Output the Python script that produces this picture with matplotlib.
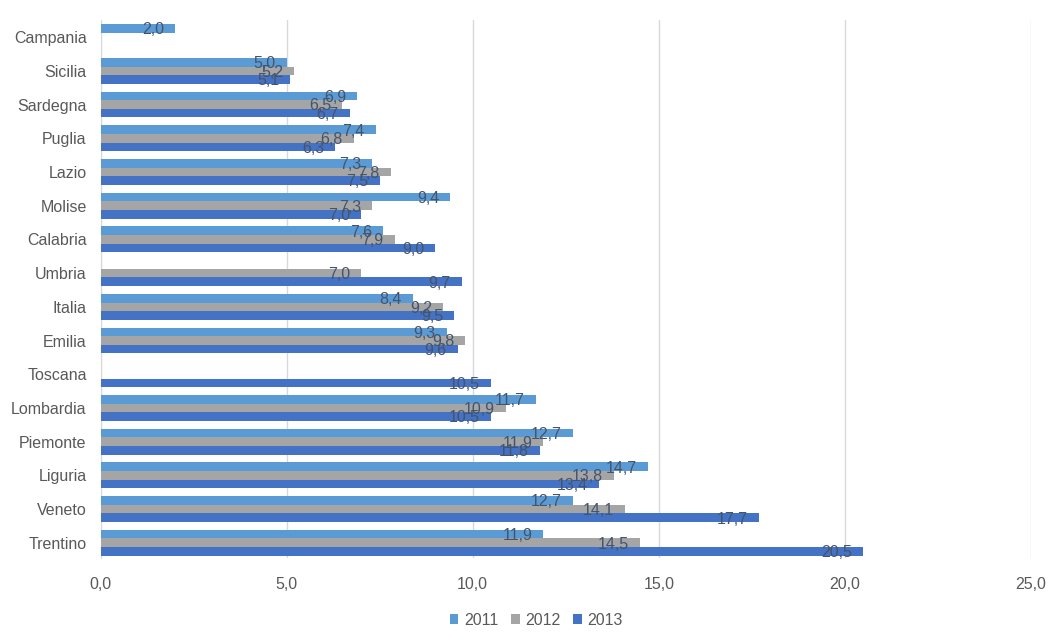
import numpy as np
import matplotlib
matplotlib.use("Agg")
import matplotlib.pyplot as plt
from matplotlib.patches import Patch

plt.rcParams["font.family"] = ["Liberation Sans Narrow", "Liberation Sans", "DejaVu Sans"]

regions = ["Campania", "Sicilia", "Sardegna", "Puglia", "Lazio", "Molise",
           "Calabria", "Umbria", "Italia", "Emilia", "Toscana", "Lombardia",
           "Piemonte", "Liguria", "Veneto", "Trentino"]
years = ["2011", "2012", "2013"]
v2011 = [2.0, 5.0, 6.9, 7.4, 7.3, 9.4, 7.6, np.nan, 8.4, 9.3, np.nan, 11.7,
         12.7, 14.7, 12.7, 11.9]
v2012 = [np.nan, 5.2, 6.5, 6.8, 7.8, 7.3, 7.9, 7.0, 9.2, 9.8, np.nan, 10.9,
         11.9, 13.8, 14.1, 14.5]
v2013 = [np.nan, 5.1, 6.7, 6.3, 7.5, 7.0, 9.0, 9.7, 9.5, 9.6, 10.5, 10.5,
         11.8, 13.4, 17.7, 20.5]
colors = ["#5B9BD5", "#A5A5A5", "#4472C4"]

text_col = "#595959"
label_col = "#44546A"

fig = plt.figure(figsize=(10.62, 6.34), dpi=100)
ax = fig.add_axes([0.0947, 0.12, 0.876, 0.848])

y = np.arange(len(regions))
h = 0.255
for i, (vals, col, yr) in enumerate(zip([v2011, v2012, v2013], colors, years)):
    pos = y + (i - 1) * h
    for yy, v in zip(pos, vals):
        if np.isnan(v):
            continue
        ax.barh(yy, v, height=h, color=col, zorder=3)
        ax.annotate(f"{v:.1f}".replace(".", ","), (v, yy),
                    textcoords="offset points", xytext=(-8, -1),
                    ha="right", va="center", fontsize=11.5, color=label_col,
                    zorder=4)

ax.set_xlim(0, 25)
ax.set_ylim(15.45, -0.5)
ax.set_xticks(np.arange(0, 26, 5))
ax.set_xticklabels([f"{t:.1f}".replace(".", ",") for t in np.arange(0, 26, 5)])
ax.set_yticks(y)
ax.set_yticklabels(regions)
ax.tick_params(axis="both", length=0, colors=text_col, labelsize=11.5)
ax.tick_params(axis="x", pad=14)
ax.tick_params(axis="y", pad=10)
ax.grid(True, axis="x", color="#D9D9D9", linewidth=1, zorder=0)
for s in ["top", "right", "bottom"]:
    ax.spines[s].set_visible(False)
ax.spines["left"].set_color("#D9D9D9")

handles = [Patch(facecolor=c, label=yr) for c, yr in zip(colors, years)]
fig.legend(handles=handles, loc="center", bbox_to_anchor=(0.505, 0.022),
           ncol=3, frameon=False, fontsize=11.5, handlelength=0.55,
           handleheight=0.55, handletextpad=0.35, columnspacing=0.8,
           labelcolor=text_col)

fig.savefig("out.png", dpi=100, facecolor="white")
